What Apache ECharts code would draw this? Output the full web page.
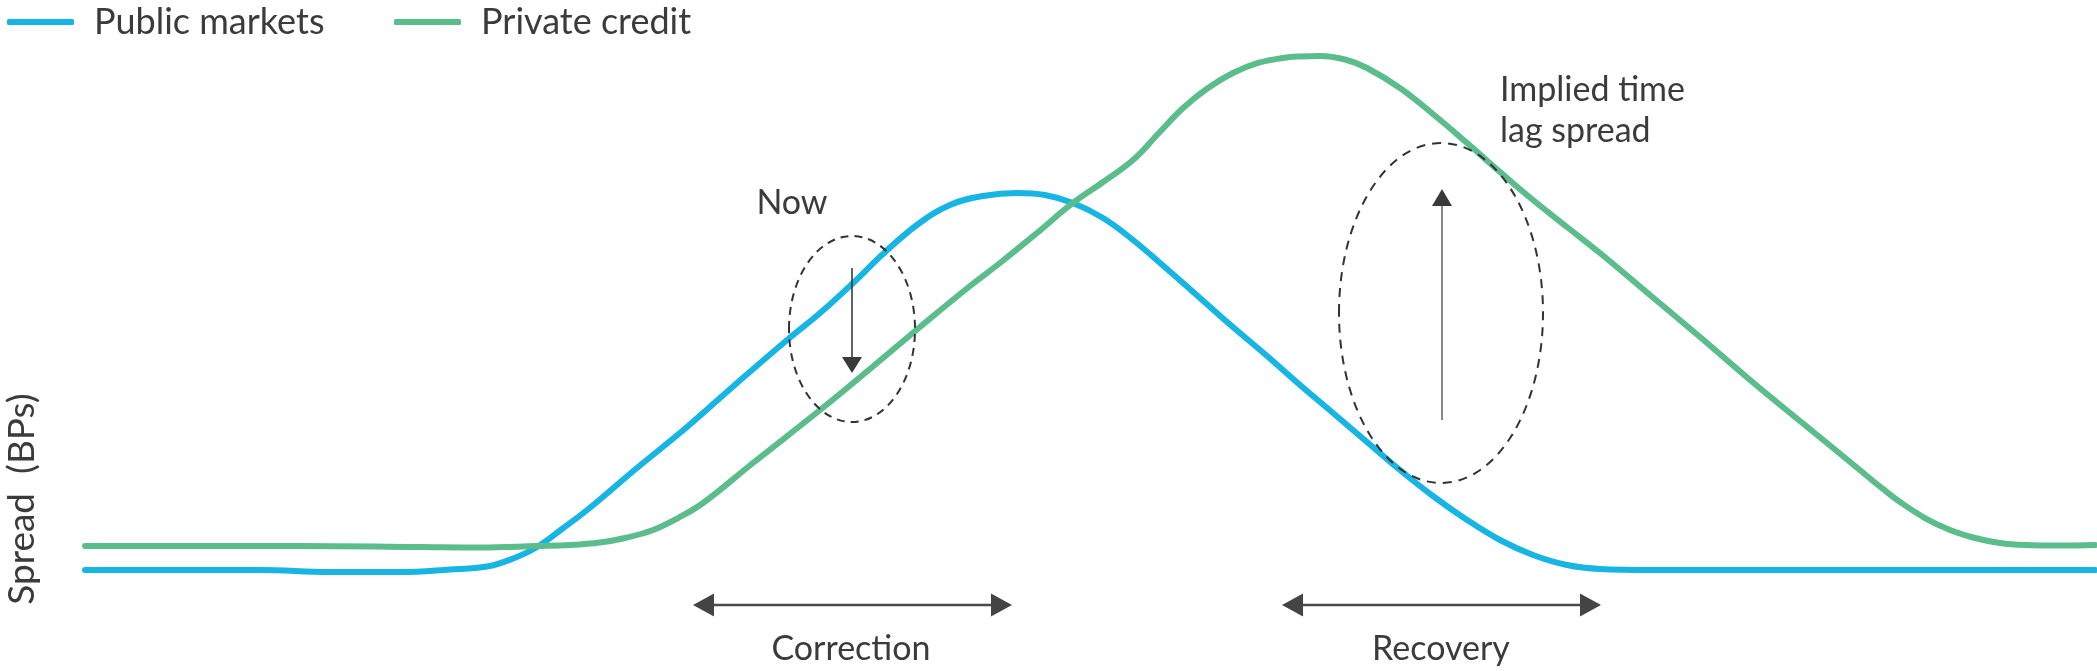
<!DOCTYPE html>
<html><head><meta charset="utf-8">
<script src="https://cdn.jsdelivr.net/npm/echarts@6/dist/echarts.min.js"></script>
<style>html,body{margin:0;padding:0;background:#fff}#c{width:2097px;height:671px}</style>
</head><body><div id="c"></div>
<script>
// ---- data (time units 0..100, spread units 0..120) ----
const seriesNames = ['Public markets', 'Private credit'];
const publicX = [0, 8.71, 12.19, 15.67, 18.16, 20.0, 21.24, 22.49, 23.73, 24.98, 27.46, 29.95, 32.44, 34.93, 36.57, 38.21, 39.70, 41.39, 43.03, 44.68, 46.37, 47.76, 49.15, 50.65, 52.14, 53.83, 55.47, 57.11, 58.81, 60.45, 62.09, 63.78, 65.42, 67.06, 68.76, 70.40, 72.04, 73.73, 75.37, 77.86, 100];
const publicY = [10.0, 10.0, 9.58, 9.58, 10.1, 10.73, 12.29, 14.79, 18.54, 22.5, 31.25, 39.79, 48.96, 57.92, 63.54, 69.79, 75.83, 81.88, 86.04, 87.92, 88.54, 88.13, 86.46, 83.33, 78.75, 72.71, 66.67, 60.63, 54.58, 48.54, 42.71, 36.67, 30.83, 25.42, 20.42, 16.25, 13.13, 11.04, 10.21, 10.0, 10.0];
const privateX = [0, 10.7, 16.67, 19.65, 22.49, 24.13, 25.62, 26.87, 28.26, 29.50, 30.75, 33.23, 36.57, 39.05, 41.54, 44.03, 45.52, 47.36, 49.15, 50.65, 52.14, 53.38, 54.63, 55.87, 57.11, 58.36, 59.60, 60.45, 61.44, 62.69, 63.78, 65.42, 67.06, 68.76, 70.40, 72.04, 73.73, 75.37, 77.86, 80.35, 82.84, 85.32, 86.97, 88.66, 89.45, 90.30, 91.54, 92.79, 94.03, 95.27, 96.52, 98.26, 100];
const privateY = [15.0, 15.0, 14.79, 14.69, 15.0, 15.21, 15.73, 16.67, 18.33, 20.83, 23.96, 32.29, 43.33, 51.88, 60.63, 69.17, 73.96, 80.21, 86.46, 90.83, 95.42, 100.83, 106.25, 110.42, 113.54, 115.63, 116.67, 116.98, 117.08, 116.35, 114.58, 110.42, 105.0, 98.96, 92.92, 87.08, 81.46, 76.04, 67.29, 58.54, 49.58, 41.04, 35.42, 29.58, 26.88, 24.17, 20.83, 18.33, 16.67, 15.63, 15.21, 15.10, 15.21];
const yAxisTitle = 'Spread  (BPs)';
const phaseLabels = ['Correction', 'Recovery'];
const noteNow = 'Now';
const noteLag = ['Implied time', 'lag spread'];

// ---- styles ----
const BLUE = '#17b5e4', GREEN = '#5bbd8c', INK = '#3b3b3b';
const FONT = 'Lato, "Open Sans", sans-serif';

const zip = (xs, ys) => xs.map((x, i) => [x, ys[i]]);

const chart = echarts.init(document.getElementById('c'));

function tri(points, fill) {
  return { type: 'polygon', z: 100, shape: { points: points }, style: { fill: fill } };
}
function dblArrow(x1, x2, y) {
  const h = 21, w = 11.5;
  return [
    { type: 'line', z: 100, shape: { x1: x1 + h, y1: y, x2: x2 - h, y2: y }, style: { stroke: '#4a4a4a', lineWidth: 2.5 } },
    tri([[x1, y], [x1 + h, y - w], [x1 + h, y + w]], '#444'),
    tri([[x2, y], [x2 - h, y - w], [x2 - h, y + w]], '#444')
  ];
}
function label(text, x, y, size, align) {
  return { type: 'text', z: 100, x: x, y: y, style: { text: text, fill: INK, font: '400 ' + size + 'px ' + FONT, align: align || 'center', verticalAlign: 'middle' } };
}

const graphics = [
  // y-axis title
  { type: 'text', z: 100, x: 22, y: 499, rotation: Math.PI / 2,
    style: { text: yAxisTitle, fill: INK, font: '400 37px ' + FONT, align: 'center', verticalAlign: 'middle' } },
  // "Now" annotation
  label(noteNow, 792, 203, 34),
  { type: 'ellipse', z: 100, shape: { cx: 852, cy: 329, rx: 63, ry: 93 },
    style: { fill: 'none', stroke: '#333', lineWidth: 2, lineDash: [8, 6] } },
  { type: 'line', z: 100, shape: { x1: 852, y1: 268, x2: 852, y2: 360 }, style: { stroke: '#3a3a3a', lineWidth: 1.6 } },
  tri([[842, 357], [862, 357], [852, 373]], '#3a3a3a'),
  // "Implied time lag spread" annotation
  label(noteLag[0], 1500, 90, 34, 'left'),
  label(noteLag[1], 1500, 131, 34, 'left'),
  { type: 'ellipse', z: 100, shape: { cx: 1441, cy: 313, rx: 102, ry: 170 },
    style: { fill: 'none', stroke: '#333', lineWidth: 2, lineDash: [9, 7] } },
  { type: 'line', z: 100, shape: { x1: 1442, y1: 420, x2: 1442, y2: 203 }, style: { stroke: '#6a6a6a', lineWidth: 1.6 } },
  tri([[1432, 206], [1452, 206], [1442, 189]], '#3a3a3a'),
  // phase arrows
  ...dblArrow(693, 1012, 605),
  ...dblArrow(1282, 1601, 605),
  label(phaseLabels[0], 851, 649, 34),
  label(phaseLabels[1], 1441, 649, 34)
];

const legendBase = {
  top: 4, padding: 0,
  icon: 'roundRect', itemWidth: 67, itemHeight: 6,
  textStyle: { fontFamily: FONT, fontSize: 36, color: INK, padding: [0, 0, 0, 15] }
};

chart.setOption({
  animation: false,
  backgroundColor: '#fff',
  legend: [
    Object.assign({ left: 7, data: [seriesNames[0]] }, legendBase),
    Object.assign({ left: 394, data: [seriesNames[1]] }, legendBase)
  ],
  grid: { left: 85, right: 2, top: 42, bottom: 53 },
  xAxis: { type: 'value', min: 0, max: 100, show: false },
  yAxis: { type: 'value', min: 0, max: 120, show: false },
  series: [
    { name: seriesNames[0], type: 'line', data: zip(publicX, publicY), smooth: 0.4, showSymbol: false,
      color: BLUE, lineStyle: { width: 6, color: BLUE, cap: 'round' } },
    { name: seriesNames[1], type: 'line', data: zip(privateX, privateY), smooth: 0.4, showSymbol: false,
      color: GREEN, lineStyle: { width: 6, color: GREEN, cap: 'round' } }
  ],
  graphic: graphics
});
</script>
</body></html>
